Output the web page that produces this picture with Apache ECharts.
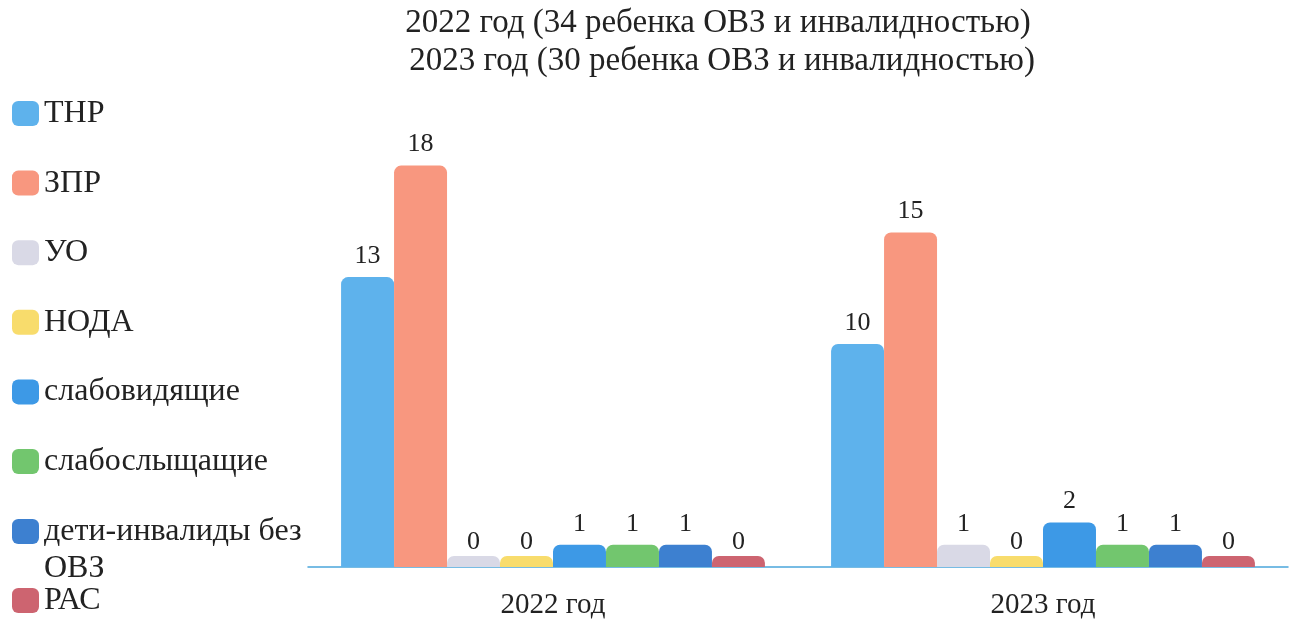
<!DOCTYPE html>
<html>
<head>
<meta charset="utf-8">
<script src="https://cdn.jsdelivr.net/npm/echarts@6/dist/echarts.min.js"></script>
<style>
html,body{margin:0;padding:0;background:#fff;}
#chart{width:1293px;height:620px;}
</style>
</head>
<body>
<div id="chart"></div>
<script>
const categories = ['2022 год', '2023 год'];
const seriesNames = ['ТНР', 'ЗПР', 'УО', 'НОДА', 'слабовидящие', 'слабослыщащие', 'дети-инвалиды без ОВЗ', 'РАС'];
const valuesTHR = [13, 10];
const valuesZPR = [18, 15];
const valuesUO = [0, 1];
const valuesNODA = [0, 0];
const valuesSlabovid = [1, 2];
const valuesSlaboslysh = [1, 1];
const valuesDetiInv = [1, 1];
const valuesRAS = [0, 0];
const titleLines = ['2022 год (34 ребенка ОВЗ и инвалидностью)', ' 2023 год (30 ребенка ОВЗ и инвалидностью)'];

const seriesValues = [valuesTHR, valuesZPR, valuesUO, valuesNODA, valuesSlabovid, valuesSlaboslysh, valuesDetiInv, valuesRAS];
const colors = ['#5eb2ec', '#f8977f', '#d9d9e6', '#f8dc6c', '#3d99e6', '#72c66e', '#3d80d0', '#cd6470'];
const serif = '"Liberation Serif", "DejaVu Serif", serif';

const chart = echarts.init(document.getElementById('chart'), null, {renderer: 'canvas'});

const series = seriesNames.map((name, i) => ({
  name: name,
  type: 'bar',
  data: seriesValues[i].map(v => v === 0 ? {value: v, label: {distance: 1}} : v),
  barGap: '0%',
  barCategoryGap: '13.5%',
  barMinHeight: 11,
  itemStyle: {color: colors[i], borderRadius: [7, 7, 0, 0]},
  label: {
    show: true,
    position: 'top',
    distance: 8,
    fontFamily: serif,
    fontSize: 26,
    color: '#222'
  }
}));

const legendBase = {
  orient: 'vertical',
  left: 7,
  itemWidth: 27,
  itemHeight: 25,
  icon: 'roundRect',
  textStyle: {fontFamily: serif, fontSize: 32, color: '#222', lineHeight: 25}
};

chart.setOption({
  backgroundColor: '#fff',
  animation: false,
  color: colors,
  title: {
    text: titleLines.join('\n'),
    left: 718,
    textAlign: 'center',
    top: 4,
    padding: 0,
    textStyle: {fontFamily: serif, fontSize: 33, fontWeight: 'normal', color: '#222', lineHeight: 38}
  },
  legend: [
    Object.assign({}, legendBase, {
      top: 92.5,
      itemGap: 37.6,
      data: seriesNames.slice(0, 6)
    }),
    Object.assign({}, legendBase, {
      top: 471,
      data: [seriesNames[6]],
      formatter: function () {
        return '{a|}\n{a|дети-инвалиды без}\n{a|ОВЗ}';
      },
      textStyle: {
        fontFamily: serif, fontSize: 32, color: '#222', lineHeight: 37,
        rich: {a: {fontFamily: serif, fontSize: 32, color: '#222', lineHeight: 37}}
      }
    }),
    Object.assign({}, legendBase, {
      top: 579.5,
      data: [seriesNames[7]]
    })
  ],
  grid: {left: 308, right: 5, top: 121, bottom: 52},
  xAxis: {
    type: 'category',
    data: categories,
    axisLine: {lineStyle: {color: '#4ba6dc', width: 1.5}},
    axisTick: {show: false},
    axisLabel: {fontFamily: serif, fontSize: 29, color: '#222', margin: 24}
  },
  yAxis: {
    type: 'value',
    min: 0,
    max: 20,
    show: false,
    splitLine: {show: false}
  },
  series: series
});
</script>
</body>
</html>
